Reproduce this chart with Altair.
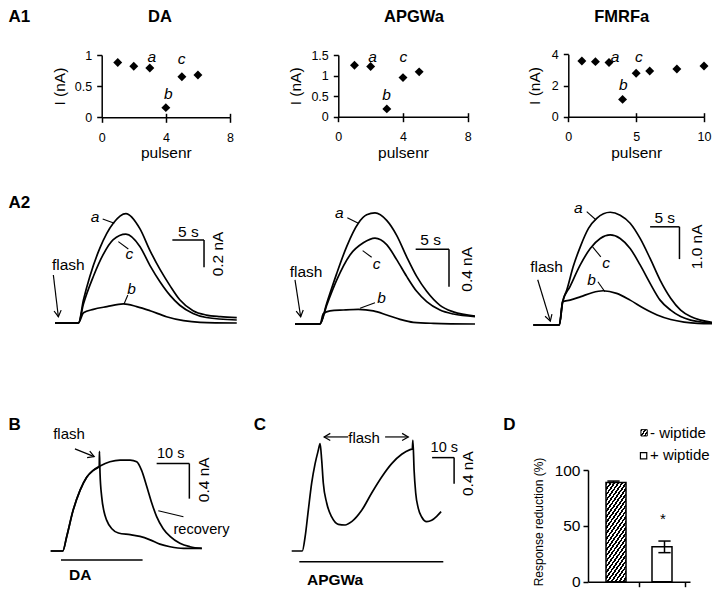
import altair as alt
import pandas as pd

FONT = "Liberation Sans"
W, H = 704, 582
M = 8  # page margin

# ---------------- data ----------------
# A1: peak current per pulse
A1_DA_pulse = [1, 2, 3, 4, 5, 6]
A1_DA_I = [0.88, 0.82, 0.79, 0.155, 0.65, 0.68]
A1_AP_pulse = [1, 2, 3, 4, 5]
A1_AP_I = [1.25, 1.22, 0.19, 0.95, 1.09]
A1_FM_pulse = [1, 2, 3, 4, 5, 6, 8, 10]
A1_FM_I = [3.57, 3.53, 3.47, 1.11, 2.78, 2.93, 3.06, 3.25]

# A2: current traces (s, nA)
DA_a_t = [0, 3.7, 4.5, 5.5, 7.1, 9.2, 11.2, 13.4, 15.0, 16.6, 18.2, 19.7, 21.8, 23.9, 26.1, 28.7]
DA_a_I = [0, 0, 0.17, 0.34, 0.55, 0.73, 0.80, 0.69, 0.53, 0.39, 0.27, 0.17, 0.09, 0.058, 0.046, 0.039]
DA_c_t = [0, 3.7, 4.5, 6.05, 7.6, 9.2, 11.2, 13.4, 15.0, 16.6, 18.2, 19.7, 21.8, 23.9, 28.7]
DA_c_I = [0, 0, 0.14, 0.34, 0.50, 0.61, 0.65, 0.56, 0.42, 0.30, 0.20, 0.13, 0.07, 0.04, 0.022]
DA_b_t = [0, 3.7, 4.5, 6.05, 8.2, 10.8, 12.9, 15.0, 17.6, 20.3, 22.9, 28.7]
DA_b_I = [0, 0, 0.075, 0.10, 0.12, 0.14, 0.12, 0.09, 0.046, 0.017, 0.005, 0]

AP_a_t = [0, 3.75, 4.75, 6.25, 7.75, 9.5, 10.75, 12, 13.75, 15.25, 16.75, 18.25, 19.75, 21.75, 23.75, 27]
AP_a_I = [0, 0, 0.22, 0.54, 0.83, 1.08, 1.17, 1.19, 1.11, 0.95, 0.72, 0.51, 0.35, 0.20, 0.13, 0.086]
AP_c_t = [0, 3.75, 4.75, 6.25, 8.25, 10.25, 12, 13.75, 15.25, 16.75, 18.25, 19.75, 21.75, 23.75, 27]
AP_c_I = [0, 0, 0.20, 0.47, 0.74, 0.87, 0.92, 0.85, 0.69, 0.51, 0.35, 0.24, 0.15, 0.107, 0.079]
AP_b_t = [0, 3.75, 4.25, 5.25, 7.25, 9.5, 11.75, 13.75, 15.75, 17.75, 20.75, 27]
AP_b_I = [0, 0, 0.11, 0.14, 0.15, 0.157, 0.14, 0.097, 0.05, 0.018, 0.007, 0]

FM_a_t = [0, 4.43, 5.0, 5.7, 6.8, 8.0, 9.4, 10.8, 13.1, 14.8, 16.5, 18.2, 19.9, 21.6, 23.4, 25.1, 26.8, 28.5, 30.9]
FM_a_I = [0, 0, 0.72, 1.08, 1.81, 2.42, 2.99, 3.30, 3.49, 3.40, 3.15, 2.68, 2.06, 1.39, 0.83, 0.46, 0.26, 0.15, 0.07]
FM_c_t = [0, 4.43, 5.0, 6.25, 8.0, 9.7, 11.4, 13.1, 14.8, 16.5, 18.2, 19.9, 21.6, 23.4, 25.1, 26.8, 29.1, 30.9]
FM_c_I = [0, 0, 0.72, 1.19, 1.86, 2.37, 2.68, 2.79, 2.68, 2.37, 1.86, 1.29, 0.77, 0.46, 0.26, 0.15, 0.08, 0.05]
FM_b_t = [0, 4.43, 5.0, 6.25, 8.1, 10.0, 11.9, 14.2, 16.5, 18.8, 21.1, 23.4, 25.7, 28.0, 30.9]
FM_b_I = [0, 0, 0.72, 0.77, 0.88, 1.0, 1.06, 0.98, 0.77, 0.52, 0.31, 0.17, 0.09, 0.05, 0.04]

# B: DA response, control (recovery) and with flash
B_ctrl_t = [0, 3.7, 4.9, 6.9, 9.0, 11.0, 13.0, 15.1, 18.1, 21.2, 24.3, 26.3, 27.8, 29.4, 30.9, 32.4, 34.4, 36.5, 39.5, 42.6, 46.2]
B_ctrl_I = [0, 0, 0.17, 0.48, 0.71, 0.86, 0.94, 0.99, 1.04, 1.06, 1.06, 1.04, 0.94, 0.75, 0.56, 0.40, 0.26, 0.17, 0.09, 0.05, 0.03]
B_flash_t = [0, 3.7, 4.9, 6.9, 9.0, 11.0, 13.0, 14.85, 14.9, 15.08, 15.6, 16.3, 17.1, 18.7, 20.7, 24.3, 27.3, 30.4, 33.4, 36.5, 40.6, 46.2]
B_flash_I = [0, 0, 0.17, 0.48, 0.71, 0.86, 0.94, 0.985, 1.16, 0.91, 0.63, 0.46, 0.36, 0.26, 0.21, 0.19, 0.17, 0.13, 0.08, 0.05, 0.03, 0.03]

# C: APGWa response with two flashes
C_t = [0, 5.3, 6.7, 8.3, 10.0, 11.7, 13.3, 14.2, 15.0, 15.8, 17.5, 20.0, 23.3, 26.7, 30.0, 35.0, 40.0, 45.0,
       50.0, 55.0, 59.2, 60.3, 60.6, 61.2, 62.0, 63.3, 65.0, 67.5, 70.0, 72.5, 74.7]
C_I = [0, 0, 0.21, 0.61, 1.02, 1.31, 1.51, 1.61, 1.36, 1.02, 0.72, 0.51, 0.40, 0.39, 0.44, 0.61, 0.87, 1.11,
       1.31, 1.45, 1.52, 1.53, 1.66, 1.21, 0.87, 0.64, 0.51, 0.44, 0.46, 0.52, 0.59]

# D: response reduction (%)
D_groups = ["- wiptide", "+ wiptide"]
D_pos = [0.5, 1.5]
D_mean = [88.7, 31.3]
D_lo = [87.3, 26.0]
D_hi = [90.1, 36.4]

# ---------------- scales (page pixel ranges) ----------------
def sc(domain, page_range):
    return alt.Scale(domain=domain, range=[page_range[0] - M, page_range[1] - M], nice=False, zero=False)

P = {
    "A1_DA": (sc([0, 8], [101.7, 230]), sc([0, 1], [117.3, 55])),
    "A1_AP": (sc([0, 8], [338.3, 467.7]), sc([0, 1.5], [116.7, 55])),
    "A1_FM": (sc([0, 10], [568.3, 704]), sc([0, 4], [116.7, 54.3])),
    "A2_DA": (sc([0, 30], [55, 245]), sc([0, 1], [323, 186.3])),
    "A2_AP": (sc([0, 30], [295, 495]), sc([0, 1], [324, 230.7])),
    "A2_FM": (sc([0, 30], [533.3, 709.4]), sc([0, 4], [325, 195.8])),
    "B": (sc([0, 50], [50.7, 214.2]), sc([0, 1], [551, 465.2])),
    "C": (sc([0, 100], [291.7, 491.7]), sc([0, 1], [551, 484.3])),
    "D": (sc([0, 2], [588, 690]), sc([0, 100], [581.7, 470])),
}


def enc(panel, xaxis=None, yaxis=None):
    xs, ys = P[panel]
    return dict(x=alt.X("x:Q", scale=xs, axis=xaxis), y=alt.Y("y:Q", scale=ys, axis=yaxis))


def texts(panel, xs, ys, labels, size, weight="normal", style="normal", angle=0, align="center", baseline="middle"):
    df = pd.DataFrame({"x": xs, "y": ys, "label": labels})
    return alt.Chart(df).mark_text(font=FONT, fontSize=size, fontWeight=weight, fontStyle=style, angle=angle,
                                   align=align, baseline=baseline, color="black").encode(
        **enc(panel), text="label:N")


def rules(panel, x1, y1, x2, y2, width=1.3):
    df = pd.DataFrame({"x": x1, "y": y1, "x2": x2, "y2": y2})
    return alt.Chart(df).mark_rule(color="black", strokeWidth=width).encode(**enc(panel), x2="x2:Q", y2="y2:Q")


def traces(panel, series, width=1.7):
    rows = []
    for name, (t, v) in series.items():
        rows += [{"trace": name, "x": a, "y": b} for a, b in zip(t, v)]
    df = pd.DataFrame(rows)
    return alt.Chart(df).mark_line(color="black", strokeWidth=width, interpolate="monotone").encode(
        **enc(panel), detail="trace:N")


ARROW = "M-0.55,0.95L0,0L0.55,0.95"


def arrows(panel, x1, y1, x2, y2, angles):
    line = rules(panel, x1, y1, x2, y2, 1.2)
    df = pd.DataFrame({"x": x2, "y": y2, "ang": angles})
    head = alt.Chart(df).mark_point(shape=ARROW, size=170, filled=False, color="black", strokeWidth=1.2,
                                    opacity=1).encode(**enc(panel), angle=alt.Angle("ang:Q", scale=None))
    return [line, head]


AX = dict(grid=False, domainColor="black", domainWidth=1.5, tickColor="black", tickWidth=1.5,
          labelFont=FONT, labelColor="black", labelFlush=False, titleFont=FONT,
          titleFontWeight="normal", titleColor="black", format="~r")


def xaxis(page_y, values, title, orient="bottom", **kw):
    off = page_y - M - H if orient == "bottom" else -(page_y - M)
    return alt.Axis(orient=orient, offset=off, values=values, title=title, **AX, **kw)


def yaxis(page_x, values, title, **kw):
    return alt.Axis(orient="left", offset=-(page_x - M), values=values, title=title, **AX, **kw)


layers = []

# ---------------- A1 ----------------
A1_cfg = [
    ("A1_DA", A1_DA_pulse, A1_DA_I, 117.3, 101.7, [0, 4, 8], [0, 0.5, 1], 7),
    ("A1_AP", A1_AP_pulse, A1_AP_I, 116.7, 338.3, [0, 4, 8], [0, 0.5, 1, 1.5], 7),
    ("A1_FM", A1_FM_pulse, A1_FM_I, 116.7, 568.3, [0, 5, 10], [0, 2, 4], 9),
]
for panel, px, py, ay, axx, xv, yv, tpad in A1_cfg:
    df = pd.DataFrame({"x": px, "y": py})
    xa = xaxis(ay, xv, "pulsenr", tickSize=5, labelPadding=9, labelFontSize=12.5, titleFontSize=15.5, titlePadding=2)
    ya = yaxis(axx, yv, "I (nA)", tickSize=5, labelPadding=5, labelFontSize=12.5, titleFontSize=15.5, titlePadding=tpad)
    layers.append(alt.Chart(df).mark_point(shape="diamond", filled=True, size=80, color="black", opacity=1)
                  .encode(**enc(panel, xa, ya)))
    # upward half of the crossing x ticks
    xt = xaxis(ay, xv[1:], None, orient="top", tickSize=4, labels=False, domain=False)
    layers.append(alt.Chart(df).mark_point(opacity=0).encode(**enc(panel, xt, None)))

layers.append(texts("A1_DA", [-5.81], [1.602], ["A1"], 17, weight="bold", align="left"))
layers.append(texts("A1_DA", [3.63], [1.602], ["DA"], 16.5, weight="bold"))
layers.append(texts("A1_AP", [4.68], [2.413], ["APGWa"], 16.5, weight="bold"))
layers.append(texts("A1_FM", [3.94], [6.36], ["FMRFa"], 16.5, weight="bold"))
layers.append(texts("A1_DA", [3.12, 4.16, 4.99], [0.96, 0.37, 0.93], ["a", "b", "c"], 15.5, style="italic"))
layers.append(texts("A1_AP", [2.12, 2.99, 4.02], [1.44, 0.53, 1.44], ["a", "b", "c"], 15.5, style="italic"))
layers.append(texts("A1_FM", [3.44, 4.05, 5.21], [3.85, 2.03, 3.81], ["a", "b", "c"], 15.5, style="italic"))

# ---------------- A2 ----------------
layers.append(traces("A2_DA", {"a": (DA_a_t, DA_a_I), "c": (DA_c_t, DA_c_I), "b": (DA_b_t, DA_b_I)}))
layers.append(traces("A2_AP", {"a": (AP_a_t, AP_a_I), "c": (AP_c_t, AP_c_I), "b": (AP_b_t, AP_b_I)}))
layers.append(traces("A2_FM", {"a": (FM_a_t, FM_a_I), "c": (FM_c_t, FM_c_I), "b": (FM_b_t, FM_b_I)}))
layers.append(texts("A2_DA", [-7.35], [0.876], ["A2"], 17, weight="bold", align="left"))

# DA
layers.append(texts("A2_DA", [6.32, 11.74, 12.1], [0.773, 0.505, 0.246], ["a", "c", "b"], 15.5, style="italic"))
layers.append(rules("A2_DA", [7.53, 10.0, 10.9], [0.761, 0.595, 0.139], [9.37, 11.58, 11.5], [0.729, 0.541, 0.205], 1.1))
layers.append(texts("A2_DA", [2.1], [0.424], ["flash"], 15.5))
layers += arrows("A2_DA", [-0.26], [0.351], [0.53], [0.046], [173])
layers.append(rules("A2_DA", [18.53, 23.53], [0.607, 0.607], [23.53, 23.53], [0.607, 0.407], 1.5))
layers.append(texts("A2_DA", [21.05], [0.668], ["5 s"], 15.5))
layers.append(texts("A2_DA", [25.8], [0.505], ["0.2 nA"], 15.5, angle=270))

# APGWa
layers.append(texts("A2_AP", [6.65, 12.25, 13.0], [1.186, 0.643, 0.275], ["a", "c", "b"], 15.5, style="italic"))
layers.append(rules("A2_AP", [7.85, 10.15, 9.75], [1.14, 0.786, 0.168], [9.5, 11.5, 12.0], [1.08, 0.715, 0.228], 1.1))
layers.append(texts("A2_AP", [1.65], [0.561], ["flash"], 15.5))
layers += arrows("A2_AP", [0.0], [0.472], [0.85], [0.078], [171])
layers.append(rules("A2_AP", [18.1, 23.1], [0.80, 0.80], [23.1, 23.1], [0.80, 0.40], 1.5))
layers.append(texts("A2_AP", [20.35], [0.90], ["5 s"], 15.5))
layers.append(texts("A2_AP", [25.75], [0.586], ["0.4 nA"], 15.5, angle=270))

# FMRFa
layers.append(texts("A2_FM", [7.67, 12.4, 9.94], [3.61, 1.91, 1.39], ["a", "c", "b"], 15.5, style="italic"))
layers.append(rules("A2_FM", [9.1, 10.1, 11.0], [3.51, 2.42, 1.34], [10.7, 11.5, 12.2], [3.25, 2.11, 1.03], 1.1))
layers.append(texts("A2_FM", [2.27], [1.8], ["flash"], 15.5))
layers += arrows("A2_FM", [0.75], [1.4], [2.9], [0.12], [163])
layers.append(rules("A2_FM", [19.9, 24.9], [3.04, 3.04], [24.9, 24.9], [3.04, 2.04], 1.5))
layers.append(texts("A2_FM", [22.4], [3.32], ["5 s"], 15.5))
layers.append(texts("A2_FM", [27.84], [2.42], ["1.0 nA"], 15.5, angle=270))

# ---------------- B ----------------
layers.append(traces("B", {"ctrl": (B_ctrl_t, B_ctrl_I), "flash": (B_flash_t, B_flash_I)}))
layers.append(texts("B", [-12.9], [1.47], ["B"], 17, weight="bold", align="left"))
layers.append(texts("B", [5.6], [1.36], ["flash"], 15))
layers += arrows("B", [7.4], [1.19], [13.3], [1.10], [111.6])
layers.append(rules("B", [32.4, 42.4], [1.02, 1.02], [42.4, 42.4], [1.02, 0.61], 1.5))
layers.append(texts("B", [36.7], [1.13], ["10 s"], 14.5))
layers.append(texts("B", [46.9], [0.83], ["0.4 nA"], 15.5, angle=270))
layers.append(rules("B", [3.15], [-0.105], [28.1], [-0.105], 1.5))
layers.append(texts("B", [9.0], [-0.28], ["DA"], 15.5, weight="bold"))
layers.append(rules("B", [32.9], [0.47], [40.6], [0.40], 1.1))
layers.append(texts("B", [46.1], [0.245], ["recovery"], 14.6))

# ---------------- C ----------------
layers.append(traces("C", {"trace": (C_t, C_I)}))
layers.append(texts("C", [-15.85], [1.89], ["C"], 17, weight="bold"))
layers.append(texts("C", [36.2], [1.70], ["flash"], 15))
layers += arrows("C", [28.3, 46.7], [1.71, 1.71], [16.2, 58.3], [1.71, 1.71], [270, 90])
layers.append(rules("C", [70.2, 81.2], [1.40, 1.40], [81.2, 81.2], [1.40, 1.01], 1.5))
layers.append(texts("C", [76.3], [1.54], ["10 s"], 14.5))
layers.append(texts("C", [88.0], [1.16], ["0.4 nA"], 15.5, angle=270))
layers.append(rules("C", [3.8], [-0.16], [75.8], [-0.16], 1.5))
layers.append(texts("C", [21.7], [-0.435], ["APGWa"], 15.5, weight="bold"))

# ---------------- D ----------------
def stripes(n, frac=0.5):
    stops = []
    for i in range(n):
        a, b, c = i / n, (i + frac) / n, (i + 1) / n
        stops += [alt.GradientStop(color="black", offset=a), alt.GradientStop(color="black", offset=b),
                  alt.GradientStop(color="white", offset=b), alt.GradientStop(color="white", offset=c)]
    return stops

HATCH_BAR = alt.LinearGradient(gradient="linear", stops=stripes(23), x1=0, y1=0, x2=0.343, y2=1.189)
HATCH_KEY = alt.LinearGradient(gradient="linear", stops=stripes(3), x1=0, y1=0, x2=1.14, y2=0.80)

dfD = pd.DataFrame({"x": D_pos, "y": D_mean, "base": [0, 0], "lo": D_lo, "hi": D_hi, "g": D_groups})
dxa = xaxis(581.7, [1, 2], None, tickSize=5, labels=False)
dya = yaxis(588, [0, 50, 100], "Response reduction (%)", tickSize=5, labelPadding=3, labelFontSize=15.5,
            titleFontSize=12, titlePadding=9, titleY=521.5 - M)
layers.append(alt.Chart(dfD.iloc[[1]]).mark_bar(size=20, orient="vertical", fill="white", stroke="black",
                                                 strokeWidth=1.5).encode(**enc("D", dxa, dya), y2="base:Q"))
layers.append(alt.Chart(dfD.iloc[[0]]).mark_bar(size=20, orient="vertical", fill=HATCH_BAR, stroke="black",
                                                 strokeWidth=1.5).encode(**enc("D"), y2="base:Q"))
err = alt.Chart(dfD).encode(x=alt.X("x:Q", scale=P["D"][0], axis=None))
layers.append(err.mark_rule(color="black", strokeWidth=1.5).encode(
    y=alt.Y("lo:Q", scale=P["D"][1], axis=None), y2="hi:Q"))
layers.append(err.mark_point(shape="stroke", size=150, color="black", strokeWidth=1.5, opacity=1).encode(
    y=alt.Y("hi:Q", scale=P["D"][1], axis=None)))
layers.append(err.transform_filter("datum.x > 1").mark_point(shape="stroke", size=150, color="black",
                                                              strokeWidth=1.5, opacity=1).encode(
    y=alt.Y("lo:Q", scale=P["D"][1], axis=None)))
layers.append(texts("D", [1.47], [56.3], ["*"], 15))
layers.append(texts("D", [-1.54], [140.3], ["D"], 17, weight="bold"))
# legend
layers.append(alt.Chart(pd.DataFrame({"x": [1.10], "y": [133.3]})).mark_square(
    size=40, fill=HATCH_KEY, stroke="black", strokeWidth=1, opacity=1).encode(**enc("D")))
layers.append(alt.Chart(pd.DataFrame({"x": [1.09], "y": [112.8]})).mark_square(
    size=40, fill="white", stroke="black", strokeWidth=1.2, opacity=1).encode(**enc("D")))
layers.append(texts("D", [1.216, 1.216], [133.5, 113.5], D_groups, 15, align="left"))

chart = alt.layer(*layers).resolve_scale(x="independent", y="independent").properties(
    width=W, height=H, autosize=alt.AutoSizeParams(type="none"), padding=0, background="white"
).configure_view(stroke=None)

chart.save("out.html", embed_options={"renderer": "svg", "actions": False})
